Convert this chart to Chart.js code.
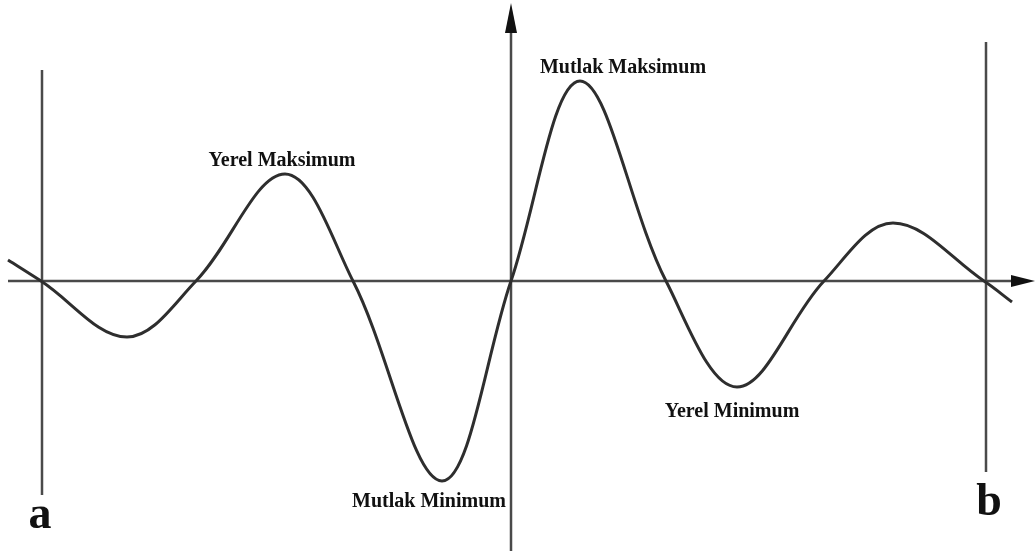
<!DOCTYPE html>
<html>
<head>
<meta charset="utf-8">
<script src="https://cdn.jsdelivr.net/npm/chart.js@4/dist/chart.umd.min.js"></script>
<style>
  html, body { margin: 0; padding: 0; background: #fff; }
  .chartBox { width: 1035px; height: 551px; }
</style>
</head>
<body>
<div class="chartBox"><canvas id="chart"></canvas></div>
<script>
// Curve key points (x, f(x)): zeros and extrema.
const xs = [8, 41, 127, 196, 285, 353, 442, 511, 580, 666, 737, 824, 893, 984, 1012];
const ys = [21, 0, -56, 0, 107, 0, -200, 0, 200, 0, -106, 0, 58, 0, -21];

// Interval ends a and b.
const bounds = [42, 986];
const boundNames = ["a", "b"];

// Extremum labels and the point index each one belongs to.
const extremaNames = ["Yerel Maksimum", "Mutlak Minimum", "Mutlak Maksimum", "Yerel Minimum"];
const extremaIndex = [4, 6, 8, 10];

const yAxisX = 511;

// label placement (pixels, relative to the extremum point)
const labelOffsets = [[-3, -8], [-13, 26], [43, -8], [-5, 30]];

const serif = '"Liberation Serif", "Times New Roman", serif';

function arrowHead(ctx, tipX, tipY, dir) {
  ctx.beginPath();
  if (dir === "up") {
    ctx.moveTo(tipX, tipY);
    ctx.lineTo(tipX + 6, tipY + 30);
    ctx.lineTo(tipX - 6, tipY + 30);
  } else {
    ctx.moveTo(tipX, tipY);
    ctx.lineTo(tipX - 24, tipY - 6);
    ctx.lineTo(tipX - 24, tipY + 6);
  }
  ctx.closePath();
  ctx.fill();
}

const axesPlugin = {
  id: "axesPlugin",
  beforeDatasetsDraw(chart) {
    const { ctx, scales: { x, y } } = chart;
    const y0 = y.getPixelForValue(0);
    const x0 = x.getPixelForValue(yAxisX);
    ctx.save();
    ctx.strokeStyle = "#4a4a4a";
    ctx.fillStyle = "#111";
    ctx.lineWidth = 2.5;

    // x axis
    ctx.beginPath();
    ctx.moveTo(x.getPixelForValue(xs[0]), y0);
    ctx.lineTo(1014, y0);
    ctx.stroke();
    arrowHead(ctx, 1035, y0, "right");

    // y axis
    ctx.beginPath();
    ctx.moveTo(x0, 551);
    ctx.lineTo(x0, 30);
    ctx.stroke();
    arrowHead(ctx, x0, 3, "up");

    // a, b verticals
    ctx.beginPath();
    ctx.moveTo(x.getPixelForValue(bounds[0]), 70);
    ctx.lineTo(x.getPixelForValue(bounds[0]), 495);
    ctx.moveTo(x.getPixelForValue(bounds[1]), 42);
    ctx.lineTo(x.getPixelForValue(bounds[1]), 472);
    ctx.stroke();
    ctx.restore();
  },
  afterDraw(chart) {
    const { ctx, scales: { x, y } } = chart;
    ctx.save();
    ctx.fillStyle = "#111";
    ctx.textAlign = "center";
    ctx.textBaseline = "alphabetic";
    ctx.font = "bold 20px " + serif;
    extremaNames.forEach((name, i) => {
      const k = extremaIndex[i];
      const px = x.getPixelForValue(xs[k]) + labelOffsets[i][0];
      const py = y.getPixelForValue(ys[k]) + labelOffsets[i][1];
      ctx.fillText(name, px, py);
    });
    ctx.font = "bold 46px " + serif;
    ctx.fillText(boundNames[0], x.getPixelForValue(bounds[0]) - 2, 528);
    ctx.fillText(boundNames[1], x.getPixelForValue(bounds[1]) + 3, 515);
    ctx.restore();
  },
};

const chart = new Chart(document.getElementById("chart"), {
  type: "scatter",
  data: {
    datasets: [{
      data: xs.map((v, i) => ({ x: v, y: ys[i] })),
      showLine: true,
      borderColor: "#2e2e2e",
      borderWidth: 3,
      pointRadius: 0,
      tension: 0.36,
    }],
  },
  options: {
    animation: false,
    responsive: true,
    maintainAspectRatio: false,
    layout: { padding: 0 },
    events: [],
    plugins: { legend: { display: false }, tooltip: { enabled: false } },
    scales: {
      x: { type: "linear", min: 0, max: 1035, display: false },
      y: { type: "linear", min: -270, max: 281, display: false },
    },
  },
  plugins: [axesPlugin],
});
</script>
</body>
</html>
